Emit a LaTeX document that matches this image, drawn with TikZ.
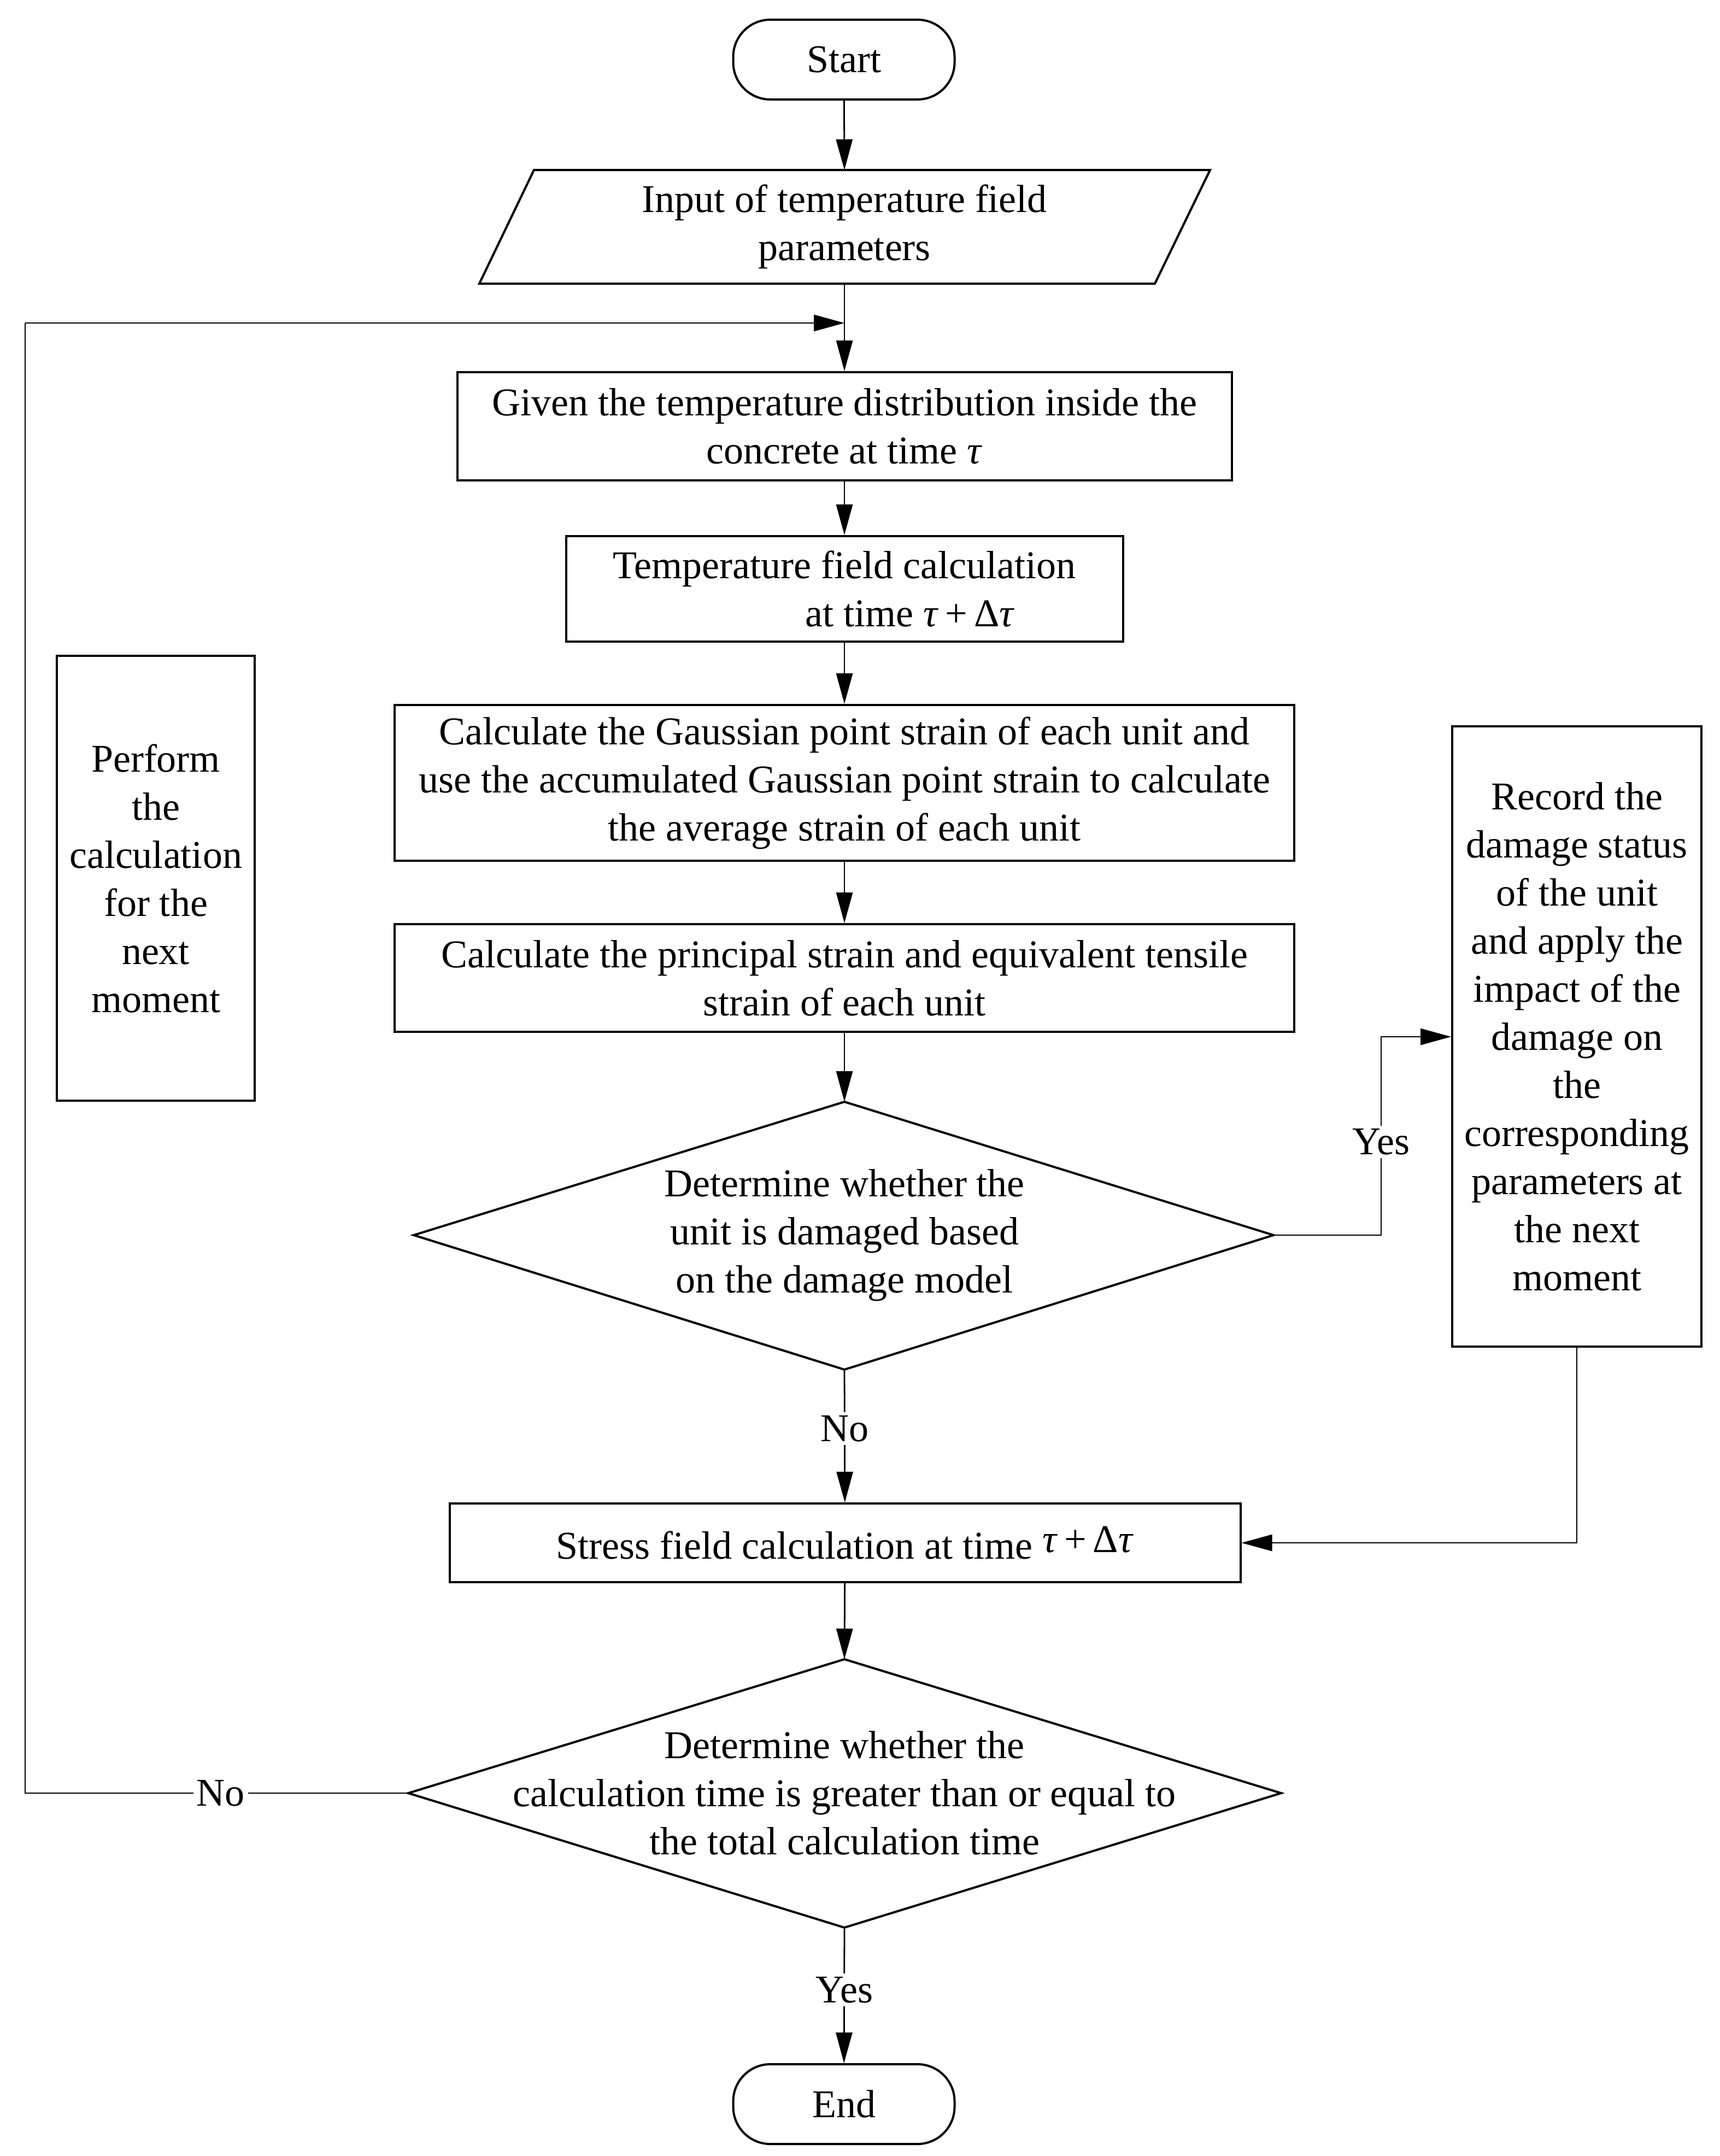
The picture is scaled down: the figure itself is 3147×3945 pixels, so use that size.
\documentclass[tikz,border=0pt]{standalone}
\usepackage{fontspec}
\setmainfont{Liberation Serif}
\usetikzlibrary{arrows.meta}
\newcommand{\tdt}{\textit{τ}\,+\,Δ\textit{τ}}
\begin{document}
\begin{tikzpicture}[x=0.25pt,y=-0.25pt,
  every node/.style={font=\fontsize{18}{22}\selectfont},
  box/.style={draw,line width=1pt,rectangle,inner sep=0pt,align=center},
  term/.style={box,rounded corners=17pt,minimum width=101.25pt,minimum height=36.5pt},
  txt/.style={align=center,inner sep=0pt},
  shp/.style={line width=1pt,line join=miter},
  conn/.style={line width=0.7pt,-{Triangle[length=14pt,width=7.5pt]}},
  plain/.style={line width=0.7pt},
  lbl/.style={fill=white,inner sep=1.5pt}
]
\useasboundingbox (0,0) rectangle (3147,3945);

% terminals
\node[term] (start) at (1544,109) {Start};
\node[term] (end) at (1544,3850) {End};

% input parallelogram
\coordinate (inTL) at (977,311);
\coordinate (inTR) at (2214,311);
\coordinate (inBR) at (2113,519);
\coordinate (inBL) at (877,519);
\coordinate (inTop) at (1545,311);
\coordinate (inBot) at (1545,519);
\draw[shp] (inTL) -- (inTR) -- (inBR) -- (inBL) -- cycle;
\node[txt] (input) at (1545,415) {Input of temperature field\\parameters};

% boxes
\node[box,minimum width=354.25pt,minimum height=49.5pt] (given) at (1545,780)
  {Given the temperature distribution inside the\\concrete at time \textit{τ}};
\node[box,minimum width=254.75pt,minimum height=48.25pt] (tcalc) at (1545,1077.5)
  {Temperature field calculation\\\hspace*{60pt}at time \tdt};
\node[box,minimum width=411.5pt,minimum height=71.25pt] (gauss) at (1545,1432.5)
  {Calculate the Gaussian point strain of each unit and\\use the accumulated Gaussian point strain to calculate\\the average strain of each unit};
\node[box,minimum width=411.5pt,minimum height=49.25pt] (princ) at (1545,1789.5)
  {Calculate the principal strain and equivalent tensile\\strain of each unit};
\node[box,minimum width=114pt,minimum height=283.75pt] (record) at (2885,1896.5)
  {Record the\\damage status\\of the unit\\and apply the\\impact of the\\damage on\\the\\corresponding\\parameters at\\the next\\moment};
\node[box,minimum width=90.5pt,minimum height=203.5pt] (perform) at (285,1607)
  {Perform\\the\\calculation\\for the\\next\\moment};
\node[box,minimum width=361.75pt,minimum height=36pt] (stress) at (1546,2823)
  {Stress field calculation at time \raisebox{3pt}{\tdt}};

% diamond 1
\coordinate (d1t) at (1545,2016);
\coordinate (d1r) at (2330,2260);
\coordinate (d1b) at (1545,2506);
\coordinate (d1l) at (757,2260);
\draw[shp] (d1t) -- (d1r) -- (d1b) -- (d1l) -- cycle;
\node[txt] (d1) at (1545,2260) {Determine whether the\\unit is damaged based\\on the damage model};

% diamond 2
\coordinate (d2t) at (1545,3036);
\coordinate (d2r) at (2344,3281);
\coordinate (d2b) at (1545,3527);
\coordinate (d2l) at (747,3281);
\draw[shp] (d2t) -- (d2r) -- (d2b) -- (d2l) -- cycle;
\node[txt] (d2) at (1545,3281) {Determine whether the\\calculation time is greater than or equal to\\the total calculation time};

% helper coordinates
\coordinate (loopJ) at (1545,591);
\coordinate (loopBL) at (46,3281);
\coordinate (loopTL) at (46,591);
\coordinate (yesA) at (2527,2260);
\coordinate (yesB) at (2527,1897);
\coordinate (recA) at (2885,2823);

% connectors
\draw[conn] (start) -- (inTop);
\draw[conn] (inBot) -- (given);
\draw[conn] (given) -- (tcalc);
\draw[conn] (tcalc) -- (gauss);
\draw[conn] (gauss) -- (princ);
\draw[conn] (princ) -- (d1t);
\draw[conn] (d1b) -- node[lbl,pos=0.445] {No} (stress);
\draw[conn] (stress) -- (d2t);
\draw[conn] (d2b) -- node[lbl,pos=0.46] {Yes} (end);
\draw[conn] (d1r) -- (yesA) -- node[lbl,pos=0.47] {Yes} (yesB) -- (record.west |- yesB);
\draw[conn] (record.south) -- (recA) -- (stress.east);
\draw[plain] (d2l) -- node[lbl,pos=0.49] {No} (loopBL) -- (loopTL);
\draw[conn] (loopTL) -- (loopJ);
\end{tikzpicture}
\end{document}
